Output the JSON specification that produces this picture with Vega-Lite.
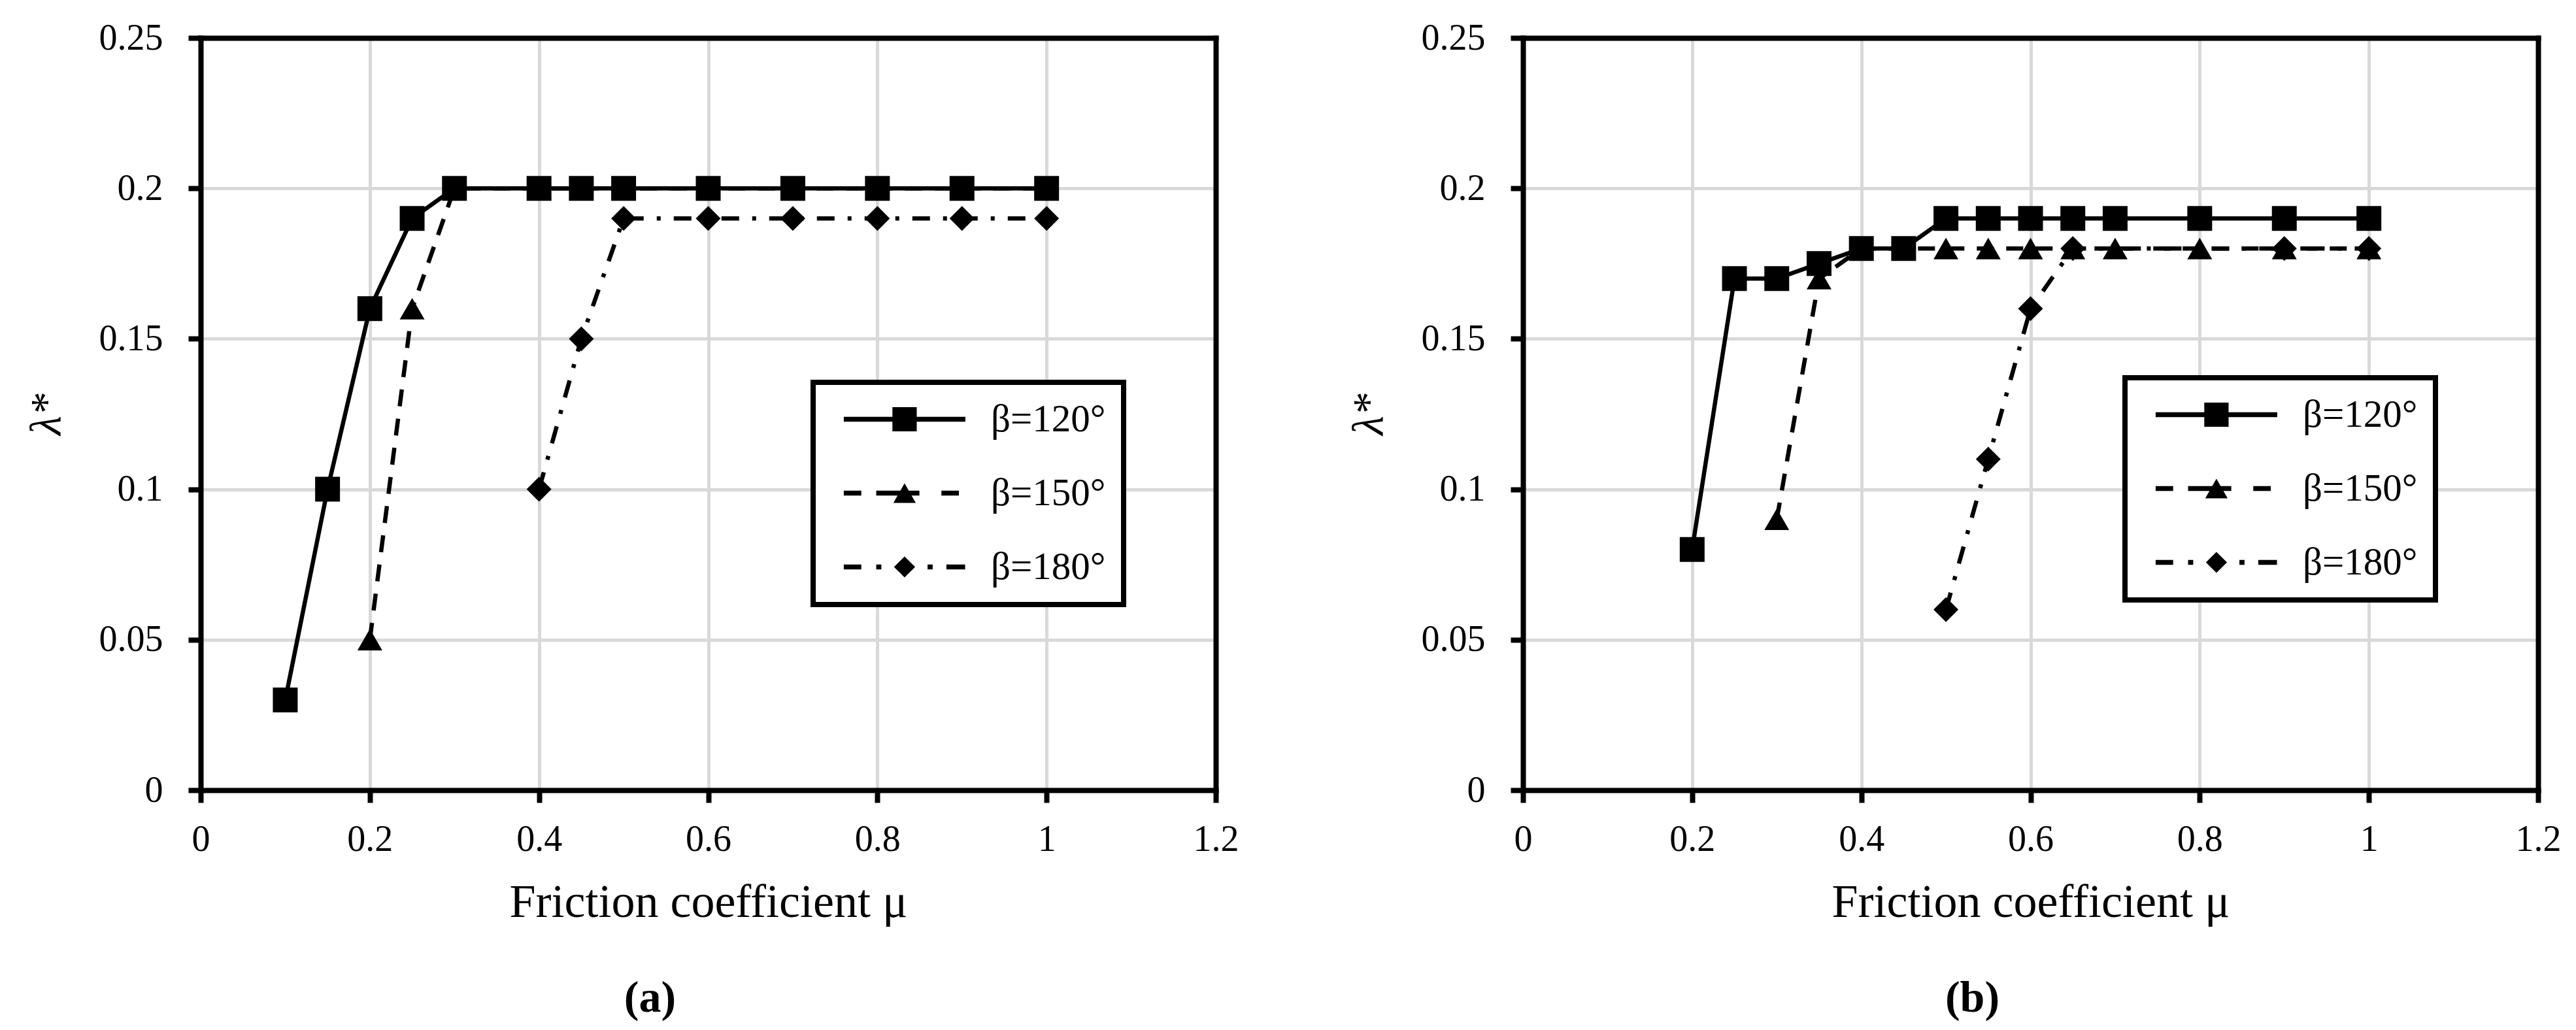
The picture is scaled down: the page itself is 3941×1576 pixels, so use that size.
{
  "$schema": "https://vega.github.io/schema/vega-lite/v6.json",
  "background": "white",
  "autosize": {"type": "pad"},
  "padding": {"left": 38, "top": 30, "right": 10, "bottom": 4},
  "bounds": "flush",
  "spacing": 470,
  "config": {
    "view": {"stroke": null},
    "font": "Liberation Serif",
    "legend": {"strokeColor": "black", "strokeWidth": 8}
  },
  "datasets": {
    "a": [
      {"series": "β=120°", "mu": 0.1, "lambda": 0.03},
      {"series": "β=120°", "mu": 0.15, "lambda": 0.1},
      {"series": "β=120°", "mu": 0.2, "lambda": 0.16},
      {"series": "β=120°", "mu": 0.25, "lambda": 0.19},
      {"series": "β=120°", "mu": 0.3, "lambda": 0.2},
      {"series": "β=120°", "mu": 0.4, "lambda": 0.2},
      {"series": "β=120°", "mu": 0.45, "lambda": 0.2},
      {"series": "β=120°", "mu": 0.5, "lambda": 0.2},
      {"series": "β=120°", "mu": 0.6, "lambda": 0.2},
      {"series": "β=120°", "mu": 0.7, "lambda": 0.2},
      {"series": "β=120°", "mu": 0.8, "lambda": 0.2},
      {"series": "β=120°", "mu": 0.9, "lambda": 0.2},
      {"series": "β=120°", "mu": 1.0, "lambda": 0.2},
      {"series": "β=150°", "mu": 0.2, "lambda": 0.05},
      {"series": "β=150°", "mu": 0.25, "lambda": 0.16},
      {"series": "β=150°", "mu": 0.3, "lambda": 0.2},
      {"series": "β=150°", "mu": 0.4, "lambda": 0.2},
      {"series": "β=150°", "mu": 0.45, "lambda": 0.2},
      {"series": "β=150°", "mu": 0.5, "lambda": 0.2},
      {"series": "β=150°", "mu": 0.6, "lambda": 0.2},
      {"series": "β=150°", "mu": 0.7, "lambda": 0.2},
      {"series": "β=150°", "mu": 0.8, "lambda": 0.2},
      {"series": "β=150°", "mu": 0.9, "lambda": 0.2},
      {"series": "β=150°", "mu": 1.0, "lambda": 0.2},
      {"series": "β=180°", "mu": 0.4, "lambda": 0.1},
      {"series": "β=180°", "mu": 0.45, "lambda": 0.15},
      {"series": "β=180°", "mu": 0.5, "lambda": 0.19},
      {"series": "β=180°", "mu": 0.6, "lambda": 0.19},
      {"series": "β=180°", "mu": 0.7, "lambda": 0.19},
      {"series": "β=180°", "mu": 0.8, "lambda": 0.19},
      {"series": "β=180°", "mu": 0.9, "lambda": 0.19},
      {"series": "β=180°", "mu": 1.0, "lambda": 0.19}
    ],
    "b": [
      {"series": "β=120°", "mu": 0.2, "lambda": 0.08},
      {"series": "β=120°", "mu": 0.25, "lambda": 0.17},
      {"series": "β=120°", "mu": 0.3, "lambda": 0.17},
      {"series": "β=120°", "mu": 0.35, "lambda": 0.175},
      {"series": "β=120°", "mu": 0.4, "lambda": 0.18},
      {"series": "β=120°", "mu": 0.45, "lambda": 0.18},
      {"series": "β=120°", "mu": 0.5, "lambda": 0.19},
      {"series": "β=120°", "mu": 0.55, "lambda": 0.19},
      {"series": "β=120°", "mu": 0.6, "lambda": 0.19},
      {"series": "β=120°", "mu": 0.65, "lambda": 0.19},
      {"series": "β=120°", "mu": 0.7, "lambda": 0.19},
      {"series": "β=120°", "mu": 0.8, "lambda": 0.19},
      {"series": "β=120°", "mu": 0.9, "lambda": 0.19},
      {"series": "β=120°", "mu": 1.0, "lambda": 0.19},
      {"series": "β=150°", "mu": 0.3, "lambda": 0.09},
      {"series": "β=150°", "mu": 0.35, "lambda": 0.17},
      {"series": "β=150°", "mu": 0.4, "lambda": 0.18},
      {"series": "β=150°", "mu": 0.45, "lambda": 0.18},
      {"series": "β=150°", "mu": 0.5, "lambda": 0.18},
      {"series": "β=150°", "mu": 0.55, "lambda": 0.18},
      {"series": "β=150°", "mu": 0.6, "lambda": 0.18},
      {"series": "β=150°", "mu": 0.65, "lambda": 0.18},
      {"series": "β=150°", "mu": 0.7, "lambda": 0.18},
      {"series": "β=150°", "mu": 0.8, "lambda": 0.18},
      {"series": "β=150°", "mu": 0.9, "lambda": 0.18},
      {"series": "β=150°", "mu": 1.0, "lambda": 0.18},
      {"series": "β=180°", "mu": 0.5, "lambda": 0.06},
      {"series": "β=180°", "mu": 0.55, "lambda": 0.11},
      {"series": "β=180°", "mu": 0.6, "lambda": 0.16},
      {"series": "β=180°", "mu": 0.65, "lambda": 0.18},
      {"series": "β=180°", "mu": 0.9, "lambda": 0.18},
      {"series": "β=180°", "mu": 1.0, "lambda": 0.18}
    ]
  },
  "hconcat": [
    {
      "width": 1553,
      "height": 1151,
      "data": {"name": "a"},
      "title": {"text": "(a)", "orient": "bottom", "font": "Liberation Serif", "fontSize": 68, "fontWeight": "bold", "color": "black", "offset": 78, "dx": -89},
      "layer": [
        {
          "mark": {"type": "line", "color": "black", "strokeWidth": 6.5, "strokeCap": "butt"},
          "encoding": {
            "x": {"field": "mu", "type": "quantitative", "scale": {"domain": [0, 1.2], "nice": false},
              "axis": {"orient": "bottom", "values": [0, 0.2, 0.4, 0.6, 0.8, 1, 1.2], "format": "~g", "grid": true, "gridColor": "#d9d9d9", "gridWidth": 5,
                "gridOpacity": {"condition": {"test": "datum.value <= 0 || datum.value >= 1.2", "value": 0}, "value": 1},
                "domainColor": "black", "domainWidth": 8, "domainCap": "square", "tickColor": "black", "tickWidth": 8, "tickSize": 19,
                "labelFont": "Liberation Serif", "labelFontSize": 56, "labelColor": "black", "labelPadding": 29, "labelFlush": false, "labelOverlap": false,
                "title": "Friction coefficient μ", "titleFont": "Liberation Serif", "titleFontSize": 72, "titleFontWeight": "normal", "titleColor": "black", "titlePadding": 33}},
            "y": {"field": "lambda", "type": "quantitative", "scale": {"domain": [0, 0.25], "nice": false},
              "axis": {"orient": "left", "values": [0, 0.05, 0.1, 0.15, 0.2, 0.25], "format": "~g", "grid": true, "gridColor": "#d9d9d9", "gridWidth": 5,
                "gridOpacity": {"condition": {"test": "datum.value <= 0 || datum.value >= 0.25", "value": 0}, "value": 1},
                "domainColor": "black", "domainWidth": 8, "domainCap": "square", "tickColor": "black", "tickWidth": 8, "tickSize": 19,
                "labelFont": "Liberation Serif", "labelFontSize": 56, "labelColor": "black", "labelPadding": 39, "labelFlush": false, "labelOverlap": false,
                "title": "λ*", "titleFont": "Liberation Serif", "titleFontSize": 68, "titleFontStyle": "italic", "titleFontWeight": "normal", "titleColor": "black", "titlePadding": 45}},
            "strokeDash": {"field": "series", "type": "nominal", "scale": {"domain": ["β=120°", "β=150°", "β=180°"], "range": [[1, 0], [26, 19], [27, 20, 6, 20]]}, "legend": null}
          }
        },
        {
          "mark": {"type": "point", "filled": true, "color": "black", "size": 1444, "opacity": 1, "strokeWidth": 0},
          "encoding": {
            "x": {"field": "mu", "type": "quantitative", "axis": {"orient": "top", "domain": true, "domainColor": "black", "domainWidth": 8, "domainCap": "square", "ticks": false, "labels": false, "grid": false, "title": null, "zindex": 1}},
            "y": {"field": "lambda", "type": "quantitative", "axis": {"orient": "right", "domain": true, "domainColor": "black", "domainWidth": 8, "domainCap": "square", "ticks": false, "labels": false, "grid": false, "title": null, "zindex": 1}},
            "shape": {"field": "series", "type": "nominal", "scale": {"domain": ["β=120°", "β=150°", "β=180°"], "range": ["square", "triangle-up", "diamond"]}, "legend": null}
          }
        },
        {
          "mark": {"type": "point", "filled": true, "color": "black", "size": 1384, "opacity": 0},
          "encoding": {
            "x": {"field": "mu", "type": "quantitative", "axis": null},
            "y": {"field": "lambda", "type": "quantitative", "axis": null},
            "shape": {"field": "series", "type": "nominal",
              "scale": {"domain": ["β=120°", "β=150°", "β=180°"], "range": [
                "M-1,-0.2H9V0.2H-1Z M3,-1H5V1H3Z",
                "M-1,-0.2H0.44V0.2H-1Z M1.67,-0.2H5.22V0.2H1.67Z M7.03,-0.2H8.47V0.2H7.03Z M4,-0.8L4.92,0.8H3.08Z",
                "M-1,-0.2H0.44V0.2H-1Z M1.67,-0.2H2.09V0.2H1.67Z M5.89,-0.2H6.31V0.2H5.89Z M7.44,-0.2H8.98V0.2H7.44Z M4,-0.86L4.87,0L4,0.86L3.13,0Z"
              ]},
              "legend": {"orient": "none", "legendX": 937, "legendY": 527, "title": null, "padding": 27, "strokeColor": "black", "fillColor": "white",
                "labelFont": "Liberation Serif", "labelFontSize": 59, "labelColor": "black", "labelLimit": 600, "labelOffset": 177, "symbolOffset": 9,
                "symbolSize": 1384, "symbolFillColor": "black", "symbolStrokeWidth": 0, "symbolOpacity": 1, "rowPadding": 53,
                "labelExpr": "datum.label + '   '"}}
          }
        }
      ],
      "resolve": {"scale": {"shape": "independent"}}
    },
    {
      "width": 1553,
      "height": 1151,
      "data": {"name": "b"},
      "title": {"text": "(b)", "orient": "bottom", "font": "Liberation Serif", "fontSize": 68, "fontWeight": "bold", "color": "black", "offset": 78, "dx": -89},
      "layer": [
        {
          "mark": {"type": "line", "color": "black", "strokeWidth": 6.5, "strokeCap": "butt"},
          "encoding": {
            "x": {"field": "mu", "type": "quantitative", "scale": {"domain": [0, 1.2], "nice": false},
              "axis": {"orient": "bottom", "values": [0, 0.2, 0.4, 0.6, 0.8, 1, 1.2], "format": "~g", "grid": true, "gridColor": "#d9d9d9", "gridWidth": 5,
                "gridOpacity": {"condition": {"test": "datum.value <= 0 || datum.value >= 1.2", "value": 0}, "value": 1},
                "domainColor": "black", "domainWidth": 8, "domainCap": "square", "tickColor": "black", "tickWidth": 8, "tickSize": 19,
                "labelFont": "Liberation Serif", "labelFontSize": 56, "labelColor": "black", "labelPadding": 29, "labelFlush": false, "labelOverlap": false,
                "title": "Friction coefficient μ", "titleFont": "Liberation Serif", "titleFontSize": 72, "titleFontWeight": "normal", "titleColor": "black", "titlePadding": 33}},
            "y": {"field": "lambda", "type": "quantitative", "scale": {"domain": [0, 0.25], "nice": false},
              "axis": {"orient": "left", "values": [0, 0.05, 0.1, 0.15, 0.2, 0.25], "format": "~g", "grid": true, "gridColor": "#d9d9d9", "gridWidth": 5,
                "gridOpacity": {"condition": {"test": "datum.value <= 0 || datum.value >= 0.25", "value": 0}, "value": 1},
                "domainColor": "black", "domainWidth": 8, "domainCap": "square", "tickColor": "black", "tickWidth": 8, "tickSize": 19,
                "labelFont": "Liberation Serif", "labelFontSize": 56, "labelColor": "black", "labelPadding": 39, "labelFlush": false, "labelOverlap": false,
                "title": "λ*", "titleFont": "Liberation Serif", "titleFontSize": 68, "titleFontStyle": "italic", "titleFontWeight": "normal", "titleColor": "black", "titlePadding": 45}},
            "strokeDash": {"field": "series", "type": "nominal", "scale": {"domain": ["β=120°", "β=150°", "β=180°"], "range": [[1, 0], [26, 19], [27, 20, 6, 20]]}, "legend": null}
          }
        },
        {
          "mark": {"type": "point", "filled": true, "color": "black", "size": 1444, "opacity": 1, "strokeWidth": 0},
          "encoding": {
            "x": {"field": "mu", "type": "quantitative", "axis": {"orient": "top", "domain": true, "domainColor": "black", "domainWidth": 8, "domainCap": "square", "ticks": false, "labels": false, "grid": false, "title": null, "zindex": 1}},
            "y": {"field": "lambda", "type": "quantitative", "axis": {"orient": "right", "domain": true, "domainColor": "black", "domainWidth": 8, "domainCap": "square", "ticks": false, "labels": false, "grid": false, "title": null, "zindex": 1}},
            "shape": {"field": "series", "type": "nominal", "scale": {"domain": ["β=120°", "β=150°", "β=180°"], "range": ["square", "triangle-up", "diamond"]}, "legend": null}
          }
        },
        {
          "mark": {"type": "point", "filled": true, "color": "black", "size": 1384, "opacity": 0},
          "encoding": {
            "x": {"field": "mu", "type": "quantitative", "axis": null},
            "y": {"field": "lambda", "type": "quantitative", "axis": null},
            "shape": {"field": "series", "type": "nominal",
              "scale": {"domain": ["β=120°", "β=150°", "β=180°"], "range": [
                "M-1,-0.2H9V0.2H-1Z M3,-1H5V1H3Z",
                "M-1,-0.2H0.44V0.2H-1Z M1.67,-0.2H5.22V0.2H1.67Z M7.03,-0.2H8.47V0.2H7.03Z M4,-0.8L4.92,0.8H3.08Z",
                "M-1,-0.2H0.44V0.2H-1Z M1.67,-0.2H2.09V0.2H1.67Z M5.89,-0.2H6.31V0.2H5.89Z M7.44,-0.2H8.98V0.2H7.44Z M4,-0.86L4.87,0L4,0.86L3.13,0Z"
              ]},
              "legend": {"orient": "none", "legendX": 921, "legendY": 520, "title": null, "padding": 27, "strokeColor": "black", "fillColor": "white",
                "labelFont": "Liberation Serif", "labelFontSize": 59, "labelColor": "black", "labelLimit": 600, "labelOffset": 177, "symbolOffset": 9,
                "symbolSize": 1384, "symbolFillColor": "black", "symbolStrokeWidth": 0, "symbolOpacity": 1, "rowPadding": 53,
                "labelExpr": "datum.label + '   '"}}
          }
        }
      ],
      "resolve": {"scale": {"shape": "independent"}}
    }
  ]
}
